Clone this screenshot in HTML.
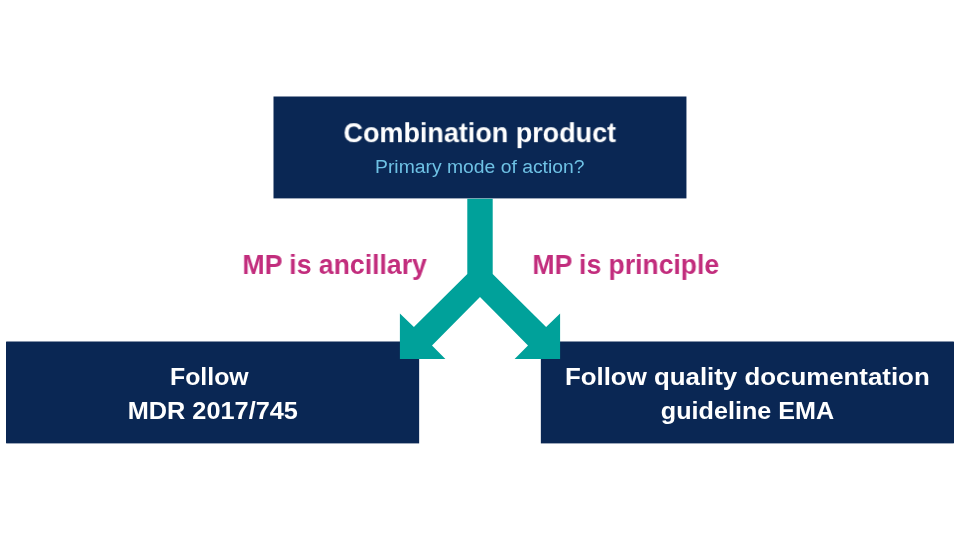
<!DOCTYPE html>
<html lang="en">
<head>
<meta charset="utf-8">
<title>Combination product</title>
<style>
html,body{margin:0;padding:0;background:#fff;}
body{width:960px;height:540px;position:relative;overflow:hidden;font-family:"Liberation Sans",sans-serif;}
.box{position:absolute;background:#0a2754;}
#top{left:274px;top:97px;width:412px;height:101px;}
#left{left:6px;top:342px;width:413px;height:101px;}
#right{left:541px;top:342px;width:413px;height:101px;}
.t{position:absolute;white-space:nowrap;line-height:1;transform-origin:0 0;font-weight:bold;will-change:transform;}
.w{color:#fff;}
.p{color:#c22d7d;}
.s{color:#6ec1e4;font-weight:normal;}
svg{position:absolute;left:0;top:0;}
</style>
</head>
<body>
<div class="box" id="top"></div>
<div class="box" id="left"></div>
<div class="box" id="right"></div>
<svg width="960" height="540" viewBox="0 0 960 540">
<rect fill="#0a2754" x="273.5" y="96.5" width="412.95" height="101.9"/>
<rect fill="#0a2754" x="6.2" y="341.5" width="412.95" height="101.9"/>
<rect fill="#0a2754" x="540.85" y="341.5" width="412.95" height="101.9"/>
<polygon fill="#00a19a" points="467.3,198.7 492.7,198.7 492.7,274.1 546.1,327 560.1,313.4 560.1,359 514.6,359 528,345.4 480,297 432,345.4 445.4,359 399.9,359 399.9,313.4 413.9,327 467.3,274.1"/>
</svg>
<div class="t w" id="t1" style="font-size:27.2px;left:343px;top:119px;transform:translate(0.48px,0.16px) scaleX(0.9918);">Combination product</div>
<div class="t s" id="t2" style="font-size:19.2px;left:375px;top:156px;transform:translate(0.03px,0.52px) scaleX(1.0074);">Primary mode of action?</div>
<div class="t p" id="t3" style="font-size:27.2px;left:242px;top:250px;transform:translate(0.42px,0.94px) scaleX(0.9788);">MP is ancillary</div>
<div class="t p" id="t4" style="font-size:27.2px;left:532px;top:250px;transform:translate(0.42px,0.94px) scaleX(0.9755);">MP is principle</div>
<div class="t w" id="t5" style="font-size:24.6px;left:170px;top:365px;transform:translate(0.01px,0.39px) scaleX(1.0097);">Follow</div>
<div class="t w" id="t6" style="font-size:24.6px;left:127px;top:398px;transform:translate(0.71px,0.79px) scaleX(1.0287);">MDR 2017/745</div>
<div class="t w" id="t7" style="font-size:24.6px;left:564px;top:365px;transform:translate(0.91px,0.09px) scaleX(1.0511);">Follow quality documentation</div>
<div class="t w" id="t8" style="font-size:24.6px;left:660px;top:398px;transform:translate(0.84px,0.99px) scaleX(1.0228);">guideline EMA</div>
</body>
</html>
